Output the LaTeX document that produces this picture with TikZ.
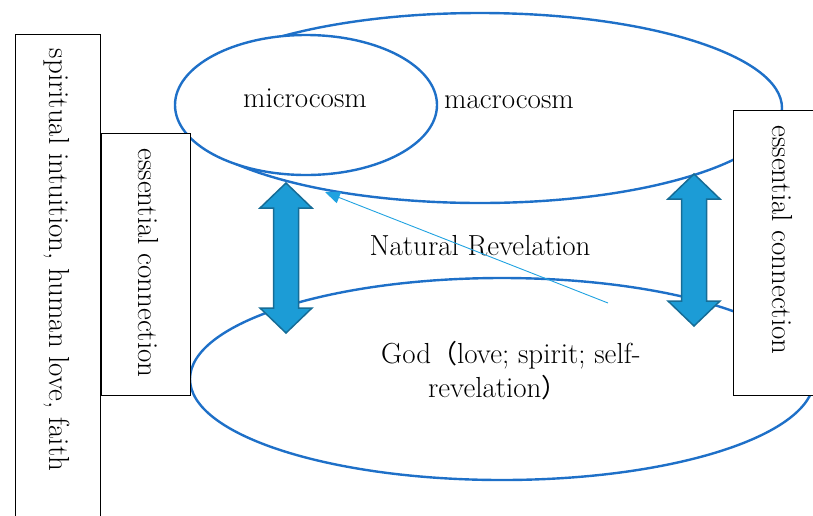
\documentclass[tikz,border=0pt]{standalone}
\usepackage{fontspec}
\newfontfamily\cjk{Noto Sans CJK SC}
\usetikzlibrary{arrows.meta, shapes.geometric}
\definecolor{CosmColor}{RGB}{30,112,200}
\definecolor{LinkColor}{RGB}{28,156,214}
\definecolor{LinkEdgeColor}{RGB}{22,108,150}
\definecolor{RevColor}{RGB}{32,162,224}
\tikzstyle{cosm} = [ellipse, draw=CosmColor, line width=2.4pt, inner sep=0pt]
\tikzstyle{box} = [draw=black, line width=0.9pt, fill=white, inner sep=0pt]
\tikzstyle{txt} = [font=\fontsize{29}{35}\selectfont, inner sep=0pt]
\tikzstyle{linkarrow} = [fill=LinkColor, draw=LinkEdgeColor, line width=1.5pt, line join=miter]
\tikzstyle{revarrow} = [RevColor, line width=0.9pt, -{Triangle[length=15pt,width=12pt]}]

\begin{document}
\begin{tikzpicture}[x=1pt, y=-1pt]
\useasboundingbox (0,0) rectangle (813,515);

% Macrocosm and microcosm
\node[cosm, minimum width=604pt, minimum height=190pt] (macro) at (480,108) {};
\node[cosm, fill=white, minimum width=262pt, minimum height=140pt] (micro) at (306,105) {};

% God
\node[cosm, minimum width=624pt, minimum height=202pt] (god) at (502,379) {};

% Side boxes
\node[box, anchor=north west, minimum width=85pt, minimum height=496pt] (faithbox) at (15,34) {};
\node[box, minimum width=89pt, minimum height=262pt] (leftconn) at (145.5,264) {};
\node[box, anchor=north west, minimum width=102pt, minimum height=285pt] (rightconn) at (733,110) {};

% Texts
\node[txt, rotate=-90] (faithtext) at (57,260) {spiritual intuition, human love, faith};
\node[txt, rotate=-90] (leftconntext) at (148,263) {essential connection};
\node[txt, rotate=-90] (rightconntext) at (782,240) {essential connection};
\node[txt, anchor=base] (microtext) at (305,107) {microcosm};
\node[txt, anchor=base] (macrotext) at (509,108) {macrocosm};
\node[txt, anchor=base] (revtext) at (480,255) {Natural Revelation};
\node[txt, anchor=base west] (godtext) at (381,363) {God{\cjk\fontsize{26}{35}\selectfont （}love; spirit; self-};
\node[txt, anchor=base west] (godtextb) at (428,397) {revelation{\cjk\fontsize{26}{35}\selectfont ）}};

% Essential links
\foreach \cx/\yt/\yb in {286/183/333, 694/174/326}
  \draw[linkarrow] (\cx,\yt) -- (\cx+26,\yt+25) -- (\cx+12.5,\yt+25) -- (\cx+12.5,\yb-25)
    -- (\cx+26,\yb-25) -- (\cx,\yb) -- (\cx-26,\yb-25) -- (\cx-12.5,\yb-25)
    -- (\cx-12.5,\yt+25) -- (\cx-26,\yt+25) -- cycle;

% Natural revelation
\coordinate (revstart) at (608,303);
\coordinate (revend) at (325,192);
\draw[revarrow] (revstart) -- (revend);
\end{tikzpicture}
\end{document}
